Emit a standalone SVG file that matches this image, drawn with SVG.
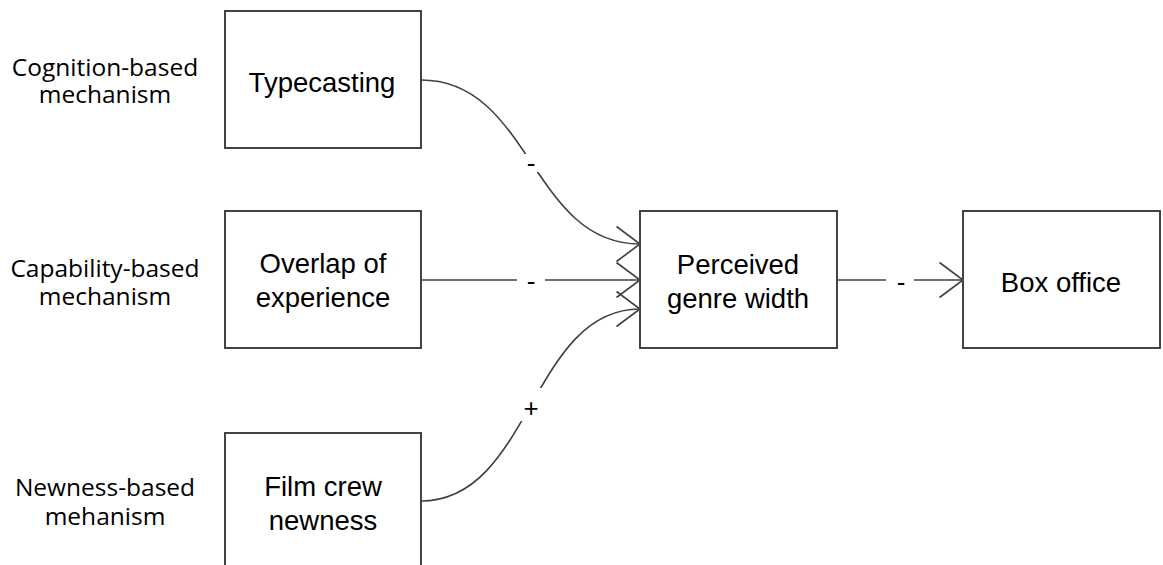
<svg xmlns="http://www.w3.org/2000/svg" width="1163" height="565" viewBox="0 0 1163 565">
<style>
.box{fill:#fff;stroke:#444;stroke-width:2}
.t{font-family:"Liberation Sans",Arial,sans-serif;font-size:27.5px;fill:#000;text-anchor:middle}
.side{font-family:"Open Sans","Noto Sans",sans-serif;font-size:24.5px;fill:#000;text-anchor:middle}
.edge{fill:none;stroke:#404040;stroke-width:1.6}
.lbg{fill:#fff;stroke:none}
.lbl{font-family:"Liberation Sans",Arial,sans-serif;font-size:26px;fill:#000;text-anchor:middle}
</style>
<defs>
<marker id="arr" markerUnits="userSpaceOnUse" viewBox="-26 -20 28 40" refX="0" refY="0" markerWidth="28" markerHeight="40" orient="auto" overflow="visible">
<path d="M-23.5,-17.5 L0,0 L-23.5,17.5" fill="none" stroke="#404040" stroke-width="1.6"/>
</marker>
</defs>
<rect width="1163" height="565" fill="#fff"/>
<g id="side-labels">
<text class="side" x="105" y="76">Cognition-based<tspan x="105" dy="27">mechanism</tspan></text>
<text class="side" x="105" y="277">Capability-based<tspan x="105" dy="28">mechanism</tspan></text>
<text class="side" x="105" y="496">Newness-based<tspan x="105" dy="29">mehanism</tspan></text>
</g>
<g id="connectors">
<path class="edge" d="M421,80 C531,80 531,244 640,244" marker-end="url(#arr)"/>
<path class="edge" d="M421,280 L640,280" marker-end="url(#arr)"/>
<path class="edge" d="M421,501 C531,501 531,309 640,309" marker-end="url(#arr)"/>
<path class="edge" d="M837,280 L963,280" marker-end="url(#arr)"/>
<rect class="lbg" x="517" y="154" width="28" height="18"/>
<rect class="lbg" x="517" y="271" width="28" height="20"/>
<rect class="lbg" x="517" y="388" width="28" height="33"/>
<rect class="lbg" x="886" y="271" width="28" height="20"/>
<text class="lbl" x="531" y="172">-</text>
<text class="lbl" x="531" y="290">-</text>
<text class="lbl" x="531" y="417">+</text>
<text class="lbl" x="901" y="291">-</text>
</g>
<g id="typecasting">
<rect class="box" x="225" y="11" width="196" height="137"/>
<text class="t" x="322" y="92">Typecasting</text>
</g>
<g id="overlap">
<rect class="box" x="225" y="211" width="196" height="137"/>
<text class="t" x="323" y="273">Overlap of</text>
<text class="t" x="323" y="307">experience</text>
</g>
<g id="filmcrew">
<rect class="box" x="225" y="433" width="196" height="137"/>
<text class="t" x="323" y="496">Film crew</text>
<text class="t" x="323" y="530">newness</text>
</g>
<g id="perceived">
<rect class="box" x="640" y="211" width="197" height="137"/>
<text class="t" x="738" y="274">Perceived</text>
<text class="t" x="738" y="308">genre width</text>
</g>
<g id="boxoffice">
<rect class="box" x="963" y="211" width="197" height="137"/>
<text class="t" x="1061" y="292">Box office</text>
</g>
</svg>
